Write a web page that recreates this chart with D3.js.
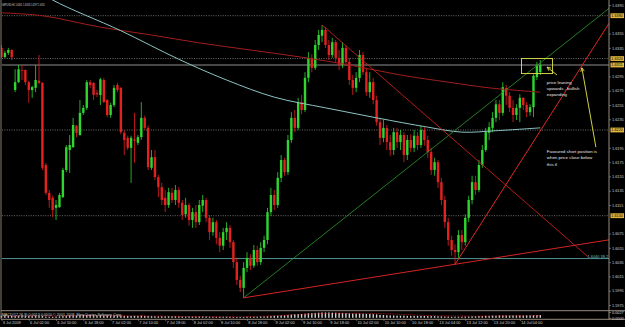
<!DOCTYPE html>
<html>
<head>
<meta charset="utf-8">
<script src="https://cdn.jsdelivr.net/npm/d3@7"></script>
<style>
  html, body { margin:0; padding:0; background:#000; }
  svg { display:block; font-family:"Liberation Sans", Arial, sans-serif; }
</style>
</head>
<body>
<script>
// GBPUSD H1 bars, 3 Jul - 14 Jul 2009
const opens = [1.6335,1.6322,1.6328,1.6332,1.6276,1.6287,1.6304,1.6304,1.6287,1.6276,
1.6279,1.6289,1.6286,1.6171,1.6132,1.6125,1.6111,1.6112,1.6126,1.6164,
1.6192,1.6196,1.6226,1.6213,1.6244,1.6251,1.6287,1.6286,1.6272,1.6269,
1.6290,1.6262,1.6241,1.6255,1.6283,1.6279,1.6216,1.6209,1.6195,1.6207,
1.6202,1.6210,1.6237,1.6223,1.6167,1.6182,1.6154,1.6140,1.6125,1.6115,
1.6132,1.6122,1.6136,1.6118,1.6102,1.6115,1.6094,1.6105,1.6091,1.6114,
1.6122,1.6097,1.6077,1.6091,1.6069,1.6058,1.6077,1.6083,1.6063,1.6035,
1.6010,1.5999,1.6027,1.6041,1.6030,1.6052,1.6035,1.6055,1.6066,1.6105,
1.6129,1.6115,1.6153,1.6178,1.6161,1.6206,1.6237,1.6223,1.6259,1.6248,
1.6293,1.6321,1.6307,1.6339,1.6352,1.6360,1.6339,1.6325,1.6343,1.6321,
1.6311,1.6335,1.6315,1.6290,1.6279,1.6293,1.6325,1.6301,1.6273,1.6287,
1.6262,1.6231,1.6209,1.6223,1.6203,1.6192,1.6217,1.6203,1.6213,1.6185,
1.6206,1.6195,1.6212,1.6199,1.6220,1.6206,1.6189,1.6164,1.6175,1.6147,
1.6122,1.6091,1.6066,1.6052,1.6049,1.6073,1.6063,1.6097,1.6122,1.6147,
1.6136,1.6171,1.6192,1.6216,1.6223,1.6237,1.6256,1.6244,1.6279,1.6268,
1.6251,1.6241,1.6251,1.6265,1.6255,1.6245,1.6252,1.6294,1.6301];
const highs = [1.6339,1.6331,1.6335,1.6333,1.6305,1.6311,1.6311,1.6305,1.6289,1.6282,
1.6311,1.6325,1.6287,1.6174,1.6136,1.6128,1.6122,1.6132,1.6167,1.6199,
1.6213,1.6237,1.6227,1.6262,1.6255,1.6290,1.6290,1.6287,1.6276,1.6293,
1.6293,1.6263,1.6258,1.6283,1.6286,1.6280,1.6220,1.6212,1.6212,1.6244,
1.6213,1.6259,1.6240,1.6226,1.6192,1.6192,1.6157,1.6146,1.6136,1.6139,
1.6139,1.6143,1.6140,1.6122,1.6125,1.6118,1.6111,1.6115,1.6122,1.6129,
1.6125,1.6101,1.6097,1.6094,1.6077,1.6083,1.6091,1.6087,1.6066,1.6041,
1.6016,1.6035,1.6049,1.6046,1.6059,1.6058,1.6063,1.6072,1.6111,1.6139,
1.6136,1.6161,1.6185,1.6181,1.6213,1.6245,1.6248,1.6265,1.6269,1.6301,
1.6329,1.6326,1.6346,1.6360,1.6367,1.6364,1.6346,1.6349,1.6346,1.6332,
1.6343,1.6339,1.6321,1.6297,1.6301,1.6332,1.6329,1.6307,1.6301,1.6293,
1.6268,1.6237,1.6234,1.6227,1.6213,1.6223,1.6223,1.6220,1.6217,1.6213,
1.6214,1.6220,1.6217,1.6226,1.6224,1.6212,1.6195,1.6181,1.6178,1.6153,
1.6128,1.6097,1.6072,1.6060,1.6080,1.6080,1.6102,1.6128,1.6156,1.6156,
1.6178,1.6199,1.6223,1.6231,1.6245,1.6262,1.6262,1.6287,1.6283,1.6273,
1.6262,1.6256,1.6270,1.6266,1.6259,1.6256,1.6298,1.6315,1.6318];
const lows = [1.6321,1.6321,1.6325,1.6318,1.6273,1.6286,1.6290,1.6283,1.6258,1.6265,
1.6273,1.6284,1.6164,1.6129,1.6111,1.6098,1.6094,1.6111,1.6125,1.6161,
1.6160,1.6195,1.6210,1.6212,1.6241,1.6248,1.6279,1.6262,1.6266,1.6255,
1.6258,1.6238,1.6237,1.6252,1.6273,1.6214,1.6185,1.6192,1.6146,1.6174,
1.6199,1.6206,1.6220,1.6164,1.6164,1.6150,1.6126,1.6115,1.6105,1.6111,
1.6118,1.6115,1.6111,1.6094,1.6097,1.6086,1.6083,1.6083,1.6087,1.6105,
1.6091,1.6066,1.6072,1.6060,1.6049,1.6052,1.6066,1.6055,1.6027,1.6003,
1.5993,1.5985,1.6021,1.6024,1.6027,1.6030,1.6031,1.6049,1.6060,1.6100,
1.6108,1.6111,1.6147,1.6156,1.6157,1.6202,1.6217,1.6220,1.6242,1.6245,
1.6287,1.6301,1.6304,1.6332,1.6343,1.6335,1.6318,1.6321,1.6315,1.6304,
1.6307,1.6310,1.6283,1.6269,1.6273,1.6287,1.6297,1.6268,1.6265,1.6256,
1.6226,1.6199,1.6203,1.6192,1.6184,1.6185,1.6195,1.6192,1.6175,1.6178,
1.6189,1.6189,1.6192,1.6195,1.6198,1.6181,1.6157,1.6156,1.6139,1.6115,
1.6083,1.6058,1.6044,1.6032,1.6041,1.6052,1.6058,1.6091,1.6116,1.6129,
1.6133,1.6167,1.6189,1.6206,1.6217,1.6231,1.6234,1.6240,1.6255,1.6245,
1.6231,1.6234,1.6231,1.6248,1.6238,1.6240,1.6238,1.6290,1.6297];
const closes = [1.6322,1.6328,1.6332,1.6322,1.6287,1.6305,1.6303,1.6287,1.6276,1.6280,
1.6290,1.6286,1.6167,1.6132,1.6122,1.6108,1.6115,1.6129,1.6164,1.6196,
1.6199,1.6227,1.6216,1.6244,1.6251,1.6287,1.6283,1.6269,1.6270,1.6291,
1.6259,1.6241,1.6255,1.6279,1.6276,1.6217,1.6206,1.6195,1.6209,1.6205,
1.6210,1.6237,1.6223,1.6168,1.6182,1.6154,1.6140,1.6122,1.6115,1.6133,
1.6122,1.6136,1.6118,1.6101,1.6115,1.6094,1.6105,1.6091,1.6115,1.6122,
1.6097,1.6077,1.6091,1.6069,1.6058,1.6077,1.6083,1.6063,1.6035,1.6010,
1.5999,1.6027,1.6041,1.6030,1.6052,1.6035,1.6055,1.6066,1.6105,1.6129,
1.6115,1.6153,1.6178,1.6161,1.6206,1.6237,1.6223,1.6259,1.6248,1.6293,
1.6321,1.6307,1.6339,1.6353,1.6360,1.6339,1.6325,1.6343,1.6321,1.6311,
1.6335,1.6315,1.6290,1.6279,1.6293,1.6325,1.6301,1.6273,1.6287,1.6262,
1.6231,1.6209,1.6223,1.6203,1.6192,1.6217,1.6203,1.6213,1.6185,1.6206,
1.6195,1.6212,1.6199,1.6220,1.6206,1.6189,1.6164,1.6175,1.6147,1.6122,
1.6091,1.6066,1.6052,1.6049,1.6073,1.6063,1.6097,1.6122,1.6147,1.6136,
1.6171,1.6192,1.6217,1.6224,1.6237,1.6256,1.6244,1.6280,1.6268,1.6251,
1.6241,1.6251,1.6265,1.6255,1.6245,1.6252,1.6296,1.6310,1.6311];

// moving averages, sampled at bar indexes
const slowMaBars   = [0, 12, 29, 44, 58, 73, 88, 102, 117, 131, 143, 158];
const slowMaValues = [1.6384,1.6380,1.6364,1.6353,1.6342,1.6332,1.6322,1.6311,1.6297,1.6287,1.6279,1.6273];
const fastMaBars   = [8, 15, 35, 52, 66, 80, 95, 110, 125, 135, 145, 158];
const fastMaValues = [1.6424,1.6402,1.6359,1.6319,1.6290,1.6266,1.6251,1.6237,1.6224,1.6217,1.6219,1.6223];

// MACD sub window
const macdHist = [0.0010,0.0011,0.0010,0.0009,0.0008,0.0009,0.0010,0.0010,0.0009,0.0009,0.0010,0.0010,
0.0008,0.0006,0.0005,0.0005,0.0006,0.0007,0.0008,0.0009,0.0010,0.0011,0.0011,0.0012,
0.0012,0.0013,0.0013,0.0012,0.0012,0.0012,0.0011,0.0011,0.0011,0.0011,0.0011,0.0010,
0.0009,0.0009,0.0009,0.0009,0.0009,0.0010,0.0009,0.0008,0.0008,0.0007,0.0007,0.0007,
0.0007,0.0007,0.0007,0.0007,0.0007,0.0006,0.0006,0.0006,0.0006,0.0006,0.0006,0.0006,
0.0006,0.0005,0.0005,0.0005,0.0005,0.0005,0.0005,0.0005,0.0004,0.0004,0.0004,0.0004,
0.0005,0.0005,0.0005,0.0005,0.0006,0.0006,0.0007,0.0008,0.0009,0.0010,0.0011,0.0012,
0.0013,0.0015,0.0016,0.0017,0.0018,0.0019,0.0021,0.0022,0.0023,0.0024,0.0025,0.0025,
0.0025,0.0024,0.0024,0.0023,0.0023,0.0022,0.0021,0.0020,0.0020,0.0020,0.0019,0.0018,
0.0018,0.0017,0.0016,0.0014,0.0013,0.0012,0.0011,0.0011,0.0010,0.0010,0.0010,0.0009,
0.0009,0.0009,0.0009,0.0009,0.0009,0.0008,0.0008,0.0008,0.0007,0.0007,0.0006,0.0006,
0.0005,0.0005,0.0005,0.0005,0.0006,0.0006,0.0007,0.0007,0.0008,0.0008,0.0009,0.0009,
0.0010,0.0010,0.0011,0.0011,0.0011,0.0011,0.0011,0.0011,0.0011,0.0011,0.0011,0.0011,
0.0012,0.0013,0.0013];
const signalBars   = [0, 40, 70, 95, 110, 130, 158];
const signalValues = [0.0008,0.0009,0.0005,0.0020,0.0020,0.0009,0.0010];
const macdTicks = [0.0027, 0.0000];

// axes
const priceTicks = [1.5975,1.5995,1.6015,1.6035,1.6055,1.6075,1.6095,1.6115,1.6135,1.6155,1.6175,
1.6195,1.6215,1.6235,1.6255,1.6275,1.6295,1.6315,1.6335,1.6355,1.6375,1.6395];
const timeLabelBars = [0,8,16,24,32,40,48,56,64,72,80,88,96,104,112,120,128,136,144,152];
const timeLabels = ["3 Jul 2009","6 Jul 02:00","6 Jul 10:00","6 Jul 18:00","7 Jul 02:00","7 Jul 10:00",
"7 Jul 18:00","8 Jul 02:00","8 Jul 10:00","8 Jul 18:00","9 Jul 02:00","9 Jul 10:00","9 Jul 18:00",
"10 Jul 02:00","10 Jul 10:00","10 Jul 18:00","13 Jul 04:00","13 Jul 12:00","13 Jul 20:00","14 Jul 04:00"];

// drawn objects
const levelPrices = [1.6380, 1.6320, 1.6220, 1.6100];
const bidPrice = 1.6311;
const fibPrice = 1.6040;
const fibLabel = "1.6040  38.2";
const greenTrend  = [[71, 1.5985], [163.8, 1.6336]];
const redSupport  = [[71, 1.5985], [133, 1.6032]];
const redResist   = [[94, 1.6367], [172.6, 1.6040]];
const redSteep    = [[133, 1.6032], [170.2, 1.6310]];
const boxBars   = [152.5, 161.6];
const boxPrices = [1.6299, 1.6320];
const arrowShort = [[162.9, 1.6297], [160.0, 1.6308]];
const arrowLong  = [[174.3, 1.6196], [170.2, 1.6307]];
const noteBullish = ["price leaning", "upwards , bullish", "expanding"];
const noteShort = ["Favoured short position is", "when price close below", "this tl"];
const title = "GBPUSD,H1 1.6301 1.6318 1.6297 1.6311";
const subTitle = "MACD(12,26,9) 0.0013 0.0010  \u00a9 2001-2009, MetaQuotes Software Corp.";

//////////////////////////////////////////////////////////////////////

const W = 625, H = 327;
const plotRight = 609, plotBottom = 310.7, subBottom = 319.3;
const frameColor = "#a89a8c", textColor = "#d0d0d0";

const svg = d3.select("body").append("svg")
    .attr("width", W).attr("height", H)
    .style("background", "#000");

svg.append("clipPath").attr("id", "mainClip")
    .append("rect").attr("x", 1).attr("y", 0)
    .attr("width", plotRight - 1).attr("height", plotBottom);

const x = d3.scaleLinear().domain([0, 158]).range([1.5, 540.3]);
const y = d3.scaleLinear().domain([1.5975, 1.6395]).range([305, 5]);
const yMacd = d3.scaleLinear().domain([0, 0.003]).range([317.8, 311.4]);

const main = svg.append("g").attr("clip-path", "url(#mainClip)");

// horizontal levels
main.selectAll(".level").data(levelPrices).enter().append("line")
    .attr("x1", 2).attr("x2", plotRight)
    .attr("y1", d => y(d)).attr("y2", d => y(d))
    .attr("stroke", "#8c8c8c").attr("stroke-width", 0.8)
    .attr("stroke-dasharray", "1,1.4");

main.append("line")
    .attr("x1", 2).attr("x2", plotRight)
    .attr("y1", y(bidPrice)).attr("y2", y(bidPrice))
    .attr("stroke", "#b4b4b4").attr("stroke-width", 0.8);

main.append("line")
    .attr("x1", 2).attr("x2", plotRight)
    .attr("y1", y(fibPrice)).attr("y2", y(fibPrice))
    .attr("stroke", "#5aa5a5").attr("stroke-width", 0.9);

main.append("text")
    .attr("x", x(172.6) + 18).attr("y", y(fibPrice) - 0.8)
    .attr("text-anchor", "end")
    .attr("font-size", "3.9px").attr("fill", "#6cc0c0")
    .text(fibLabel);

// candles
const bars = d3.range(opens.length).map(i => ({i: i, o: opens[i], h: highs[i], l: lows[i], c: closes[i]}));
const candleColor = d => d.c >= d.o ? "#2fd62f" : "#e42020";

main.selectAll(".wick").data(bars).enter().append("line")
    .attr("x1", d => x(d.i)).attr("x2", d => x(d.i))
    .attr("y1", d => y(d.h)).attr("y2", d => y(d.l))
    .attr("stroke", candleColor).attr("stroke-width", 0.8);

main.selectAll(".body").data(bars).enter().append("rect")
    .attr("x", d => x(d.i) - 1.2)
    .attr("width", 2.4)
    .attr("y", d => y(Math.max(d.o, d.c)))
    .attr("height", d => Math.max(0.7, Math.abs(y(d.o) - y(d.c))))
    .attr("fill", candleColor);

// moving averages
const maLine = d3.line().x(d => x(d[0])).y(d => y(d[1])).curve(d3.curveCatmullRom);
main.append("path")
    .attr("d", maLine(slowMaBars.map((b, k) => [b, slowMaValues[k]])))
    .attr("fill", "none").attr("stroke", "#a21e1e").attr("stroke-width", 1);
main.append("path")
    .attr("d", maLine(fastMaBars.map((b, k) => [b, fastMaValues[k]])))
    .attr("fill", "none").attr("stroke", "#8cc4c4").attr("stroke-width", 1);

// trend lines
function drawTrend(pts, color, width, ray) {
    let x1 = x(pts[0][0]), y1 = y(pts[0][1]), x2 = x(pts[1][0]), y2 = y(pts[1][1]);
    if (ray) {
        const t = (plotRight - x1) / (x2 - x1);
        x2 = x1 + t * (x2 - x1);
        y2 = y1 + t * (y2 - y1);
    }
    main.append("line")
        .attr("x1", x1).attr("y1", y1).attr("x2", x2).attr("y2", y2)
        .attr("stroke", color).attr("stroke-width", width);
}
drawTrend(greenTrend, "#2f9a2f", 0.8, true);
drawTrend(redSupport, "#d42424", 1, true);
drawTrend(redResist, "#c81e1e", 0.9, false);
drawTrend(redSteep, "#e02828", 1, true);

// yellow box, arrows and notes
main.append("rect")
    .attr("x", x(boxBars[0])).attr("y", y(boxPrices[1]))
    .attr("width", x(boxBars[1]) - x(boxBars[0]))
    .attr("height", y(boxPrices[0]) - y(boxPrices[1]))
    .attr("fill", "none").attr("stroke", "#e6e64a").attr("stroke-width", 0.9);

function drawArrow(pts) {
    const x1 = x(pts[0][0]), y1 = y(pts[0][1]), x2 = x(pts[1][0]), y2 = y(pts[1][1]);
    const a = Math.atan2(y2 - y1, x2 - x1);
    main.append("line")
        .attr("x1", x1).attr("y1", y1).attr("x2", x2).attr("y2", y2)
        .attr("stroke", "#e6e64a").attr("stroke-width", 0.9);
    [0.45, -0.45].forEach(s => {
        main.append("line")
            .attr("x1", x2).attr("y1", y2)
            .attr("x2", x2 - 4 * Math.cos(a + s)).attr("y2", y2 - 4 * Math.sin(a + s))
            .attr("stroke", "#e6e64a").attr("stroke-width", 0.9);
    });
}
drawArrow(arrowShort);
drawArrow(arrowLong);

main.selectAll(".note1").data(noteBullish).enter().append("text")
    .attr("x", x(159.9)).attr("y", (d, k) => y(1.6284) + k * 6)
    .attr("font-size", "4.4px").attr("fill", "#e8e8e8")
    .text(d => d);
main.selectAll(".note2").data(noteShort).enter().append("text")
    .attr("x", x(159.9)).attr("y", (d, k) => y(1.6188) + k * 6.5)
    .attr("font-size", "4.4px").attr("fill", "#e8e8e8")
    .text(d => d);

svg.append("text")
    .attr("x", 1.8).attr("y", 6)
    .attr("font-size", "3.4px").attr("fill", textColor)
    .attr("textLength", 43).attr("lengthAdjust", "spacingAndGlyphs")
    .text(title);

// MACD sub window
svg.selectAll(".hist").data(macdHist).enter().append("rect")
    .attr("x", (d, i) => x(i) - 0.7).attr("width", 1.4)
    .attr("y", d => yMacd(d)).attr("height", d => yMacd(0) - yMacd(d))
    .attr("fill", "#d4d4d4");
svg.append("path")
    .attr("d", d3.line().x(d => x(d[0])).y(d => yMacd(d[1])).curve(d3.curveCatmullRom)(signalBars.map((b, k) => [b, signalValues[k]])))
    .attr("fill", "none").attr("stroke", "#d02020").attr("stroke-width", 0.7)
    .attr("stroke-dasharray", "1,0.8");
svg.append("text")
    .attr("x", 1.8).attr("y", 316.2)
    .attr("font-size", "3.7px").attr("fill", textColor)
    .text(subTitle);

// frame
svg.append("line").attr("x1", 1).attr("x2", 1).attr("y1", 0).attr("y2", subBottom)
    .attr("stroke", frameColor).attr("stroke-width", 0.8);
svg.append("line").attr("x1", plotRight).attr("x2", plotRight).attr("y1", 0).attr("y2", subBottom)
    .attr("stroke", frameColor).attr("stroke-width", 0.9);
svg.append("line").attr("x1", 1).attr("x2", W).attr("y1", plotBottom).attr("y2", plotBottom)
    .attr("stroke", frameColor).attr("stroke-width", 0.9);
svg.append("line").attr("x1", 1).attr("x2", W).attr("y1", subBottom).attr("y2", subBottom)
    .attr("stroke", frameColor).attr("stroke-width", 0.9);

// highlighted price labels hide the plain ticks they cover
const marks = levelPrices.concat([bidPrice]);
const shownTicks = priceTicks.filter(t => marks.every(m => Math.abs(y(t) - y(m)) > 4.6));

const priceAxis = svg.append("g")
    .attr("transform", "translate(" + plotRight + ",0)")
    .call(d3.axisRight(y).tickValues(shownTicks).tickFormat(d3.format(".4f")).tickSize(2).tickSizeOuter(0));
const macdAxis = svg.append("g")
    .attr("transform", "translate(" + plotRight + ",0)")
    .call(d3.axisRight(yMacd).tickValues(macdTicks).tickFormat(d3.format(".4f")).tickSize(2).tickSizeOuter(0));
[priceAxis, macdAxis].forEach(g => {
    g.select(".domain").remove();
    g.selectAll("line").attr("stroke", frameColor).attr("stroke-width", 0.6);
    g.selectAll("text").attr("x", 3).attr("font-size", "3.8px")
        .attr("font-family", "Liberation Sans, Arial, sans-serif").attr("fill", textColor);
});

svg.selectAll(".markBox").data(marks).enter().append("rect")
    .attr("x", plotRight + 1.5).attr("y", d => y(d) - 2.4)
    .attr("width", 13.5).attr("height", 4.8)
    .attr("fill", "#e2b43c");
svg.selectAll(".markText").data(marks).enter().append("text")
    .attr("x", plotRight + 2.3).attr("y", d => y(d) + 1.4)
    .attr("font-size", "3.8px").attr("fill", "#000")
    .text(d => d3.format(".4f")(d));

// time axis
const timeAxis = svg.append("g")
    .attr("transform", "translate(0," + subBottom + ")")
    .call(d3.axisBottom(x).tickValues(timeLabelBars).tickFormat((d, k) => timeLabels[k]).tickSize(1.6).tickSizeOuter(0));
timeAxis.select(".domain").remove();
timeAxis.selectAll("line").attr("stroke", frameColor).attr("stroke-width", 0.6);
timeAxis.selectAll("text")
    .attr("text-anchor", "start").attr("x", 0.8).attr("y", 2.4)
    .attr("font-size", "3.9px").attr("font-family", "Liberation Sans, Arial, sans-serif")
    .attr("fill", textColor);
</script>
</body>
</html>
